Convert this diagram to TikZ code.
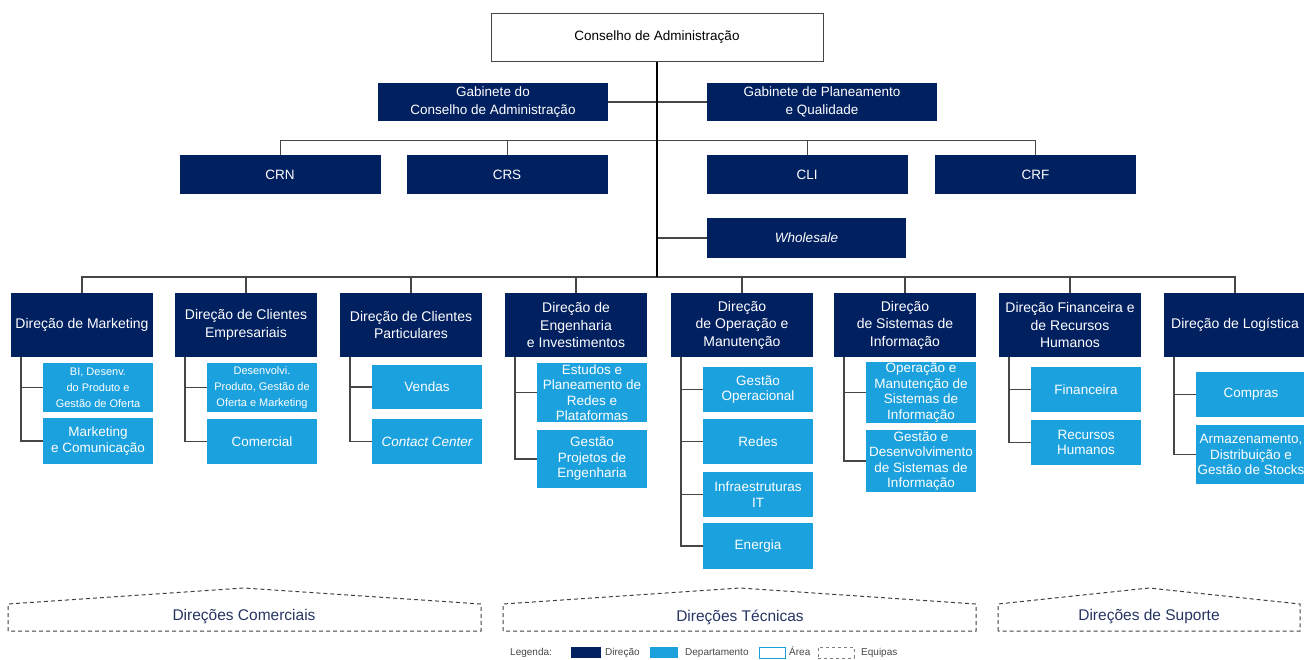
\documentclass[tikz,border=0pt]{standalone}
\usepackage{fontspec}
\setmainfont{Liberation Sans}
\definecolor{navy}{RGB}{0,32,96}
\definecolor{azul}{RGB}{27,161,222}
\definecolor{linha}{RGB}{70,70,70}
\definecolor{rotulo}{RGB}{38,52,98}

\begin{document}
\begin{tikzpicture}[x=1pt, y=-1pt,
	topo/.style={fill=navy, text=white, minimum width=230pt, minimum height=38pt, align=center, inner sep=1pt, font=\fontsize{13.5}{18}\selectfont},
	cr/.style={fill=navy, text=white, minimum width=201pt, minimum height=39pt, inner sep=1pt, font=\fontsize{13.5}{18}\selectfont},
	dir/.style={fill=navy, text=white, minimum width=142pt, minimum height=64pt, align=center, inner sep=1pt, font=\fontsize{14}{17.5}\selectfont},
	dep/.style={fill=azul, text=white, minimum width=110pt, align=center, inner sep=0pt, font=\fontsize{13.5}{15.5}\selectfont},
	depmini/.style={dep, font=\fontsize{11}{16}\selectfont},
	lig/.style={draw=linha, line width=1.3pt},
	tronco/.style={draw=black, line width=2pt},
	equipa/.style={draw=black!75, dash pattern=on 4pt off 3pt, line width=1pt},
	grupo/.style={text=rotulo, font=\fontsize{15.5}{18}\selectfont},
	legtxt/.style={anchor=west, inner sep=0pt, text height=7.5pt, text depth=2pt, text=linha, font=\fontsize{10}{11}\selectfont},
	legbox/.style={minimum width=30pt, minimum height=11pt, inner sep=0pt}]
		\useasboundingbox (0,0) rectangle (1304,659);
		
		% topo
		\node[draw=linha, line width=1pt, fill=white, minimum width=332pt, minimum height=48pt, font=\fontsize{13.5}{18}\selectfont] (ca) at (657,37) {Conselho de Administração};
		\coordinate (base) at (657,277);
		\coordinate (barra) at (657,140);
		\node[topo] (gca) at (493,102) {Gabinete do\\Conselho de Administração};
		\node[topo] (gpq) at (822,102) {Gabinete de Planeamento\\e Qualidade};
		\node[cr] (crn) at (280,174.5) {CRN};
		\node[cr] (crs) at (507,174.5) {CRS};
		\node[cr] (cli) at (807,174.5) {CLI};
		\node[cr] (crf) at (1035.5,174.5) {CRF};
		\node[cr, minimum width=199pt, minimum height=40pt] (whs) at (806.5,238) {\itshape Wholesale};
		
		\draw[lig] (gca.east) -- (gpq.west);
		\draw[lig, line width=1pt] (crn.north) -- (crn.north |- barra) -| (crf.north);
		\draw[lig, line width=1pt] (crs.north) -- (crs.north |- barra);
		\draw[lig, line width=1pt] (cli.north) -- (cli.north |- barra);
		\draw[lig] (whs.west) -- (whs.west -| base);
		
		% direcoes
		\node[dir] (mkt) at (82,325) {Direção de Marketing};
		\node[dir] (emp) at (246,325) {Direção de Clientes\\Empresariais};
		\node[dir] (par) at (411,325) {Direção de Clientes\\Particulares};
		\node[dir] (eng) at (576,325) {Direção de\\Engenharia\\e Investimentos};
		\node[dir] (ope) at (742,325) {Direção\\de Operação e\\Manutenção};
		\node[dir] (sis) at (905,325) {Direção\\de Sistemas de\\Informação};
		\node[dir] (fin) at (1070,325) {Direção Financeira e\\de Recursos\\Humanos};
		\node[dir] (log) at (1235,325) {Direção de Logística};
		
		\draw[lig] (mkt.north) -- (mkt.north |- base) -| (log.north);
		\draw[lig] (emp.north) -- (emp.north |- base);
		\draw[lig] (par.north) -- (par.north |- base);
		\draw[lig] (eng.north) -- (eng.north |- base);
		\draw[lig] (ope.north) -- (ope.north |- base);
		\draw[lig] (sis.north) -- (sis.north |- base);
		\draw[lig] (fin.north) -- (fin.north |- base);
		\draw[tronco] (ca.south) -- (base);
		
		% departamentos
		\node[depmini, minimum height=49pt] (mkt1) at (98,387.5) {BI, Desenv.\\do Produto e\\Gestão de Oferta};
		\node[dep, minimum height=46pt] (mkt2) at (98,441) {Marketing\\e Comunicação};
		\draw[lig] ([xshift=-61pt]mkt.south) |- (mkt2.west);
		\draw[lig] ([xshift=-61pt]mkt.south) |- (mkt1.west);
		
		\node[depmini, minimum height=49pt] (emp1) at (262,387.5) {Desenvolvi.\\Produto, Gestão de\\Oferta e Marketing};
		\node[dep, minimum height=45pt] (emp2) at (262,441.5) {Comercial};
		\draw[lig] ([xshift=-61pt]emp.south) |- (emp2.west);
		\draw[lig] ([xshift=-61pt]emp.south) |- (emp1.west);
		
		\node[dep, minimum height=44pt] (par1) at (427,387) {Vendas};
		\node[dep, minimum height=45pt] (par2) at (427,441.5) {\itshape Contact Center};
		\draw[lig] ([xshift=-61pt]par.south) |- (par2.west);
		\draw[lig] ([xshift=-61pt]par.south) |- (par1.west);
		
		\node[dep, minimum height=59pt] (eng1) at (592,392.5) {Estudos e\\Planeamento de\\Redes e\\Plataformas};
		\node[dep, minimum height=58pt] (eng2) at (592,459) {Gestão\\Projetos de\\Engenharia};
		\draw[lig] ([xshift=-61pt]eng.south) |- (eng2.west);
		\draw[lig] ([xshift=-61pt]eng.south) |- (eng1.west);
		
		\node[dep, minimum height=45pt] (ope1) at (758,389.5) {Gestão\\Operacional};
		\node[dep, minimum height=45pt] (ope2) at (758,441.5) {Redes};
		\node[dep, minimum height=45pt] (ope3) at (758,494.5) {Infraestruturas\\IT};
		\node[dep, minimum height=46pt] (ope4) at (758,546) {Energia};
		\draw[lig] ([xshift=-61pt]ope.south) |- (ope4.west);
		\draw[lig] ([xshift=-61pt]ope.south) |- (ope3.west);
		\draw[lig] ([xshift=-61pt]ope.south) |- (ope2.west);
		\draw[lig] ([xshift=-61pt]ope.south) |- (ope1.west);
		
		\node[dep, minimum height=61pt] (sis1) at (921,392.5) {Operação e\\Manutenção de\\Sistemas de\\Informação};
		\node[dep, minimum height=62pt] (sis2) at (921,461) {Gestão e\\Desenvolvimento\\de Sistemas de\\Informação};
		\draw[lig] ([xshift=-61pt]sis.south) |- (sis2.west);
		\draw[lig] ([xshift=-61pt]sis.south) |- (sis1.west);
		
		\node[dep, minimum height=45pt] (fin1) at (1086,389.5) {Financeira};
		\node[dep, minimum height=45pt] (fin2) at (1086,442.5) {Recursos\\Humanos};
		\draw[lig] ([xshift=-61pt]fin.south) |- (fin2.west);
		\draw[lig] ([xshift=-61pt]fin.south) |- (fin1.west);
		
		\node[dep, minimum height=45pt] (log1) at (1251,394.5) {Compras};
		\node[dep, minimum height=59pt] (log2) at (1251,454.5) {Armazenamento,\\Distribuição e\\Gestão de Stocks};
		\draw[lig] ([xshift=-61pt]log.south) |- (log2.west);
		\draw[lig] ([xshift=-61pt]log.south) |- (log1.west);
		
		% grupos
		\draw[equipa] (8,631) -- (8,604) -- (244,588) -- (481,604) -- (481,631) -- cycle;
		\node[grupo] (gcom) at (244,617) {Direções Comerciais};
		\draw[equipa] (503,631) -- (503,604) -- (740,588) -- (976,604) -- (976,631) -- cycle;
		\node[grupo] (gtec) at (740,617) {Direções Técnicas};
		\draw[equipa] (998,631) -- (998,604) -- (1149,588) -- (1300,604) -- (1300,631) -- cycle;
		\node[grupo] (gsup) at (1149,617) {Direções de Suporte};
		
		% legenda
		\node[legtxt] (leg) at (510,652.5) {Legenda:};
		\node[legbox, fill=navy] (lgd) at (585.5,652.5) {};
		\node[legtxt] (lgdt) at (605,652.5) {Direção};
		\node[legbox, fill=azul, minimum width=28pt] (lgp) at (664,652.5) {};
		\node[legtxt] (lgpt) at (685,652.5) {Departamento};
		\node[legbox, draw=azul, line width=0.8pt, minimum width=26pt] (lga) at (772,652.5) {};
		\node[legtxt] (lgat) at (789,652.5) {Área};
		\node[legbox, draw=linha!70, dashed, line width=0.6pt, minimum width=36pt] (lge) at (836,652.5) {};
		\node[legtxt] (lget) at (861,652.5) {Equipas};
	\end{tikzpicture}
\end{document}
